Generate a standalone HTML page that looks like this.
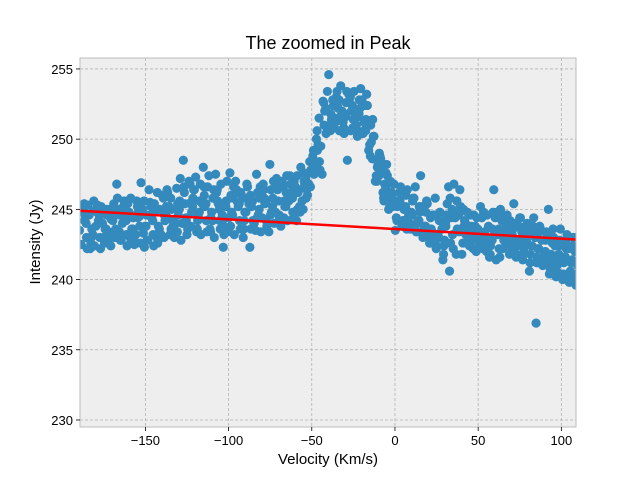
<!DOCTYPE html>
<html><head><meta charset="utf-8"><style>
html,body{margin:0;padding:0;background:#fff;}
svg text{font-family:"Liberation Sans",sans-serif;}
</style></head><body>
<svg id="chart" width="640" height="480" viewBox="0 0 640 480" xmlns="http://www.w3.org/2000/svg">
<rect x="0" y="0" width="640" height="480" fill="#ffffff"/>
<text x="328" y="49" font-size="18" text-anchor="middle" fill="#000">The zoomed in Peak</text>
<rect x="80" y="58" width="496" height="369" fill="#eeeeee"/>
<defs><clipPath id="clip"><rect x="80" y="58" width="496" height="369"/></clipPath></defs>
<g id="grid"></g>
<g id="points" clip-path="url(#clip)"></g>
<g id="fit" clip-path="url(#clip)"></g>
<rect x="80" y="58" width="496" height="369" fill="none" stroke="#bcbcbc" stroke-width="1"/>
<g id="ticks"></g>
<text x="328" y="464" font-size="15" text-anchor="middle" fill="#000">Velocity (Km/s)</text>
<text x="40" y="242" font-size="15" text-anchor="middle" fill="#000" transform="rotate(-90 40 242)">Intensity (Jy)</text>
</svg>
<script>
const xTicks = [-150, -100, -50, 0, 50, 100];
const yTicks = [230, 235, 240, 245, 250, 255];
const velocities = [-188,-184,-180,-176,-172,-168,-164,-160,-156,-152,-148,-144,-140,-136,-132,-128,-124,-120,-116,-112,-108,-104,-100,-96,-92,-88,-84,-80,-76,-72,-68,-64,-60,-56,-52,-48,-44,-40,-36,-32,-28,-24,-20,-16,-12,-8,-4,0,4,8,12,16,20,24,28,32,36,40,44,48,52,56,60,64,68,72,76,80,84,88,92,96,100,104,108];
const intensities = [
[243.5,245,242.5,244.2,244.8],[244,242.2,245.3,243,244.6],[243.2,244.8,242.4,245,243.8],[244.5,243,245.2,242.6,244],
[243.6,245,242.8,244.3,243.2],[244.2,246.8,243,245,243.6],[243.4,245.2,242.8,244.6,244],[244.2,243,245.4,242.7,244.8],
[243.6,245.6,242.5,244.4,243.2],[244.5,243.3,246.9,242.3,245],[243.8,245.5,242.8,244.6,246.4],[244.2,243,245.4,242.6,244.9],
[243.6,245.8,243.2,244.6,246],[244.6,243.2,246.2,243.6,245.2],[244.2,246.5,243,245.4,244],[245,248.5,242.8,246.2,244],
[244.4,246.8,243.6,245.5,247],[245.2,243.4,246.4,244.2,247.3],[244.8,248,243.2,246,245.4],[245.4,243.6,246.6,244.4,247.4],
[244.2,246.2,243,245.6,247.5],[245,242.3,246.8,243.8,244.6],[245.2,247.6,243.4,246,244.4],[244.6,246.4,243.2,245.5,247],
[245.4,243,246.2,244.2,245.8],[244.8,242.3,246.6,243.6,245.4],[245.6,247.5,244,246.2,243.5],[245,246.8,243.4,245.8,244.4],
[245.6,248.2,244,246.4,243.4],[245.2,247.2,244,246.4,244.8],[244.6,246.6,243.8,245.6,247],[245.2,247.4,244.2,246.2,245.6],
[245.8,244.2,247,245,246.6],[246.4,245,248,247,245.6],[247.2,248.4,246,247.8,246.8],[248.5,250,247.5,249.2,248],
[251.5,252.7,249.5,251,247.5],[252.2,251,253.4,251.8,254.6],[251.6,253,250.8,252.4,251.2],[252.8,251.2,253.8,250.4,252],
[251.6,252.6,248.5,250.6,253.2],[252.4,251,253.4,250.2,251.8],[251.8,250.4,253.6,251.2,252.8],[250.6,249.6,252.4,251,249.2],
[248.6,247.4,250.2,248,247],[247.4,246.2,248.6,245.6,247.8],[246.6,245.4,247.4,246,245],[245.8,244.4,246.8,245.2,243.5],
[245.6,244.2,246.6,245,243.8],[245.2,244,246.4,243.6,244.6],[244.6,243.4,245.8,244,246.6],[244.2,243,247.4,243.6,245.2],
[243.8,242.6,245.4,244.4,243.2],[243.4,242.2,244.6,243,245.8],[243,241.4,244.2,242.4,243.6],[244,240.6,245.4,242.6,246.6],
[245,241.8,246.8,243.6,244.4],[244.6,242.6,245.2,243.8,241.8],[244,242.4,244.8,243.2,243.6],[243.4,242,244.6,243,243.8],
[243.2,242.2,245.2,242.6,244.4],[243,241.6,244.6,242.4,243.8],[242.8,241.4,246.4,243.4,244.4],[243.6,242.2,245,242.8,244.2],
[243.4,241.8,244.6,242.6,243.8],[243.2,241.6,245.4,242.4,244],[242.8,241.4,244.4,242.2,243.4],[242.6,240.6,244,241.8,243.2],
[242.4,236.9,244.4,241.6,243],[242.2,241,243.6,241.6,242.8],[242,240.4,243.2,241.2,245],[241.6,240.2,243,241,242.4],
[241.8,240,243.6,241.2,242.6],[241.6,239.8,243.2,240.6,242.2],[241.4,239.6,243,240.4,242]
];
const intensitiesB = [
[244.6,243,245.4,242.2],[243.6,244.9,242.6,245.6],[244.2,243,245.3,242.2],[243.6,244.6,242.9,245],
[244.6,243.4,242.4,245.4],[243.4,244.6,245.8,242.8],[244.4,243.2,245.6,242.4],[243.6,244.4,245.8,242.9],
[244.8,243.8,245.2,242.6],[243.8,244.6,245.6,242.8],[244.4,243.2,245.2,242.4],[243.8,245,246.2,243.2],
[244.2,245.2,243,246.4],[245,243.8,245.8,243.2],[244.6,245.6,243.4,247.2],[245.4,244.2,246.6,243.2],
[244.8,245.8,243.8,246.4],[244.6,245.6,243.6,246.8],[245.2,244.2,246.6,243.4],[244.8,245.8,243.4,246.4],
[245.4,244.2,246.4,243.6],[244.4,245.6,243.2,247],[244.8,245.8,243.8,246.6],[245.2,244.2,246.2,243.6],
[244.8,245.8,243.6,246.8],[245.2,244.2,246,243.6],[244.6,245.8,244.4,246.6],[245.4,244.2,246.4,243.8],
[244.8,245.8,244.6,247],[245.6,244.4,246.8,244],[245.2,246.2,244.4,247.4],[245.8,244.8,246.8,244.4],
[246.2,245.2,247.4,244.8],[246.8,245.8,247.6,246.4],[247.6,248.8,246.6,249.2],[249.6,248.4,250.6,247.8],
[252,250.4,252.6,250.8],[251.4,252.8,250.6,252.4],[252.2,250.6,253.4,251.6],[251.8,252.6,250.8,253.4],
[252,250.8,253,251.4],[251.6,252.8,250.6,252.2],[252.4,251.4,250.6,253.2],[249.8,251.4,248.8,250.2],
[248.2,249,247,248.8],[246.8,247.6,245.8,248.2],[246.2,245.2,247,246.8],[245.4,246.2,244.2,245.6],
[245,246,244.2,243.6],[244.8,245.6,243.6,245.8],[244.2,245.2,243.4,244.8],[243.8,244.8,243.2,245.6],
[243.6,244.6,242.6,243],[243.2,244.2,242.4,244.8],[242.8,243.8,241.8,244.6],[244.4,243.2,245.8,242.2],
[244.8,243.4,245.6,246.4],[244.2,243.2,245,242.6],[243.8,242.8,244.6,242.2],[243.6,242.4,244.4,243],
[243.4,242.6,244.8,242],[242.8,243.6,241.8,244.8],[243.2,242.2,244.8,241.6],[243.2,242.4,244.6,243.8],
[243,242.2,244.2,243.6],[242.8,243.8,241.8,244.4],[242.6,243.6,241.8,242.8],[242.4,243.4,241.2,243.8],
[242.2,243.4,241.2,243.8],[241.8,242.8,241.2,243.4],[241.8,242.6,240.8,243.6],[241.4,242.4,240.6,242.8],
[241.6,242.8,240.4,242.2],[241.2,242.4,240.2,243],[241,242,240,242.6]
];
const fitVelocity = [-189.3, 108.8];
const fitIntensity = [244.9, 242.85];

const X0=80,X1=576,Y0=427,Y1=58;
const xMin=-189.3,xMax=108.8,yMin=229.5,yMax=255.78;
const sx=v=>X0+(v-xMin)/(xMax-xMin)*(X1-X0);
const sy=v=>Y0-(v-yMin)/(yMax-yMin)*(Y0-Y1);
const NS="http://www.w3.org/2000/svg";
function mk(tag,attrs,parent){const e=document.createElementNS(NS,tag);for(const k in attrs)e.setAttribute(k,attrs[k]);parent.appendChild(e);return e;}
const grid=document.getElementById('grid'),ticks=document.getElementById('ticks'),pts=document.getElementById('points'),fit=document.getElementById('fit');
xTicks.forEach(t=>{
  const x=sx(t);
  const g=mk('line',{x1:x,x2:x,y1:Y1,y2:Y0,stroke:'#b2b2b2','stroke-width':0.8,'stroke-dasharray':'3,2'},grid);
  
  
  const tk=mk('line',{x1:x,x2:x,y1:Y0,y2:Y0+4,stroke:'#000','stroke-width':0.8},ticks);
  
  
  const tx=mk('text',{x:x,y:Y0+18,'font-size':13,'text-anchor':'middle',fill:'#000'},ticks);
  tx.textContent=(t<0?'\u2212'+(-t):t);
  
  
});
yTicks.forEach(t=>{
  const y=sy(t);
  const g=mk('line',{x1:X0,x2:X1,y1:y,y2:y,stroke:'#b2b2b2','stroke-width':0.8,'stroke-dasharray':'3,2'},grid);
  
  
  const tk=mk('line',{x1:X0-4,x2:X0,y1:y,y2:y,stroke:'#000','stroke-width':0.8},ticks);
  
  
  const tx=mk('text',{x:X0-7,y:y+5,'font-size':13,'text-anchor':'end',fill:'#000'},ticks);
  tx.textContent=t;
  
  
});
const offA=[-1.6,0.8,-0.6,1.4,0.2];
const offB=[1.8,2.6,1.2,3.0];
velocities.forEach((v,i)=>{
  intensities[i].forEach((val,k)=>{
    const c=mk('circle',{cx:sx(v+offA[k]),cy:sy(val),r:4.6,fill:'#348abd'},pts);
    
    
  });
  intensitiesB[i].forEach((val,k)=>{
    const c=mk('circle',{cx:sx(v+offB[k]),cy:sy(val),r:4.6,fill:'#348abd'},pts);
    
    
  });
});
const ln=mk('line',{x1:sx(fitVelocity[0]),y1:sy(fitIntensity[0]),x2:sx(fitVelocity[1]),y2:sy(fitIntensity[1]),stroke:'#ff0000','stroke-width':2.5},fit);


</script>
</body></html>
